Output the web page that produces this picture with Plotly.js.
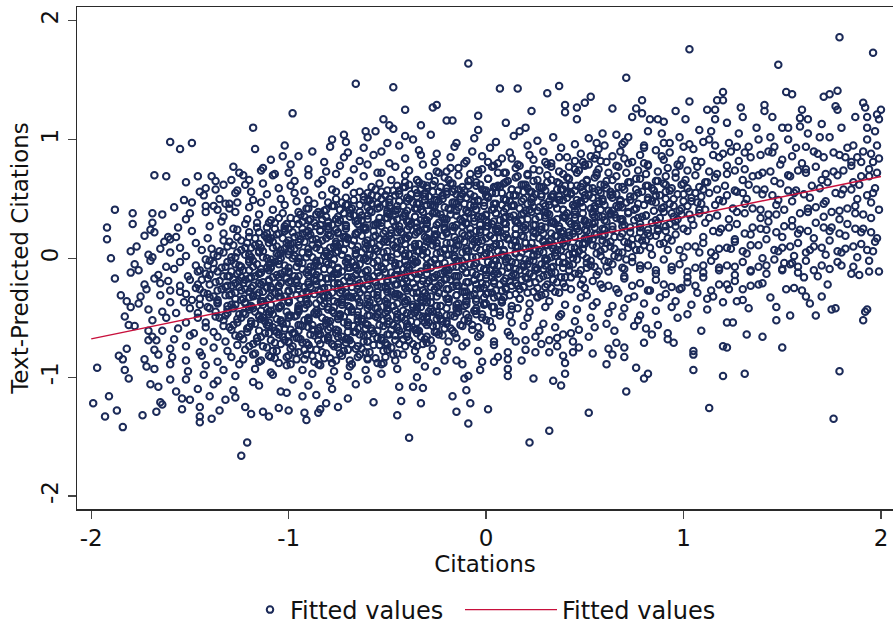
<!DOCTYPE html>
<html>
<head>
<meta charset="utf-8">
<script src="https://cdn.plot.ly/plotly-3.0.1.min.js"></script>
<style>
  html, body { margin: 0; padding: 0; background: #fff; }
  #chart { width: 893px; height: 624px; }
</style>
</head>
<body>
<div id="chart"></div>
<script>
'use strict';

// points read one by one off the sparse edges of the cloud: [citations, predicted]
const edgePoints = [
  [1.03,1.76],[1.79,1.86],[1.96,1.73],[1.48,1.63],[-.09,1.64],[-.66,1.47],[-.47,1.44],[-.98,1.22],[.07,1.43],[.16,1.43],
  [.31,1.39],[.37,1.45],[-.41,1.25],[-.27,1.27],[-.25,1.29],[-.61,1.07],[-.56,1.07],[-.52,1.17],[-.49,1.12],[-.47,1.09],
  [-.41,1.03],[-.33,1.12],[-.2,1.16],[-.17,1.16],[-.04,1.2],[-.04,1.08],[.1,1.14],[.23,1.24],[.4,1.29],[.46,1.27],
  [.4,1.23],[.5,1.31],[.46,1.17],[.2,1.1],[.17,1.07],[-.72,1.04],[-.78,1.0],
  [.71,1.52],[.53,1.36],[1.03,1.32],[.79,1.33],[.64,1.26],[.76,1.26],[.74,1.19],[.79,1.22],[1.2,1.4],[1.17,1.33],[1.2,1.33],
  [1.12,1.25],[1.16,1.25],[1.16,1.17],[1.29,1.27],[1.3,1.19],[1.22,1.14],[1.41,1.29],[1.41,1.24],[1.45,1.19],[1.52,1.4],
  [1.55,1.38],[1.6,1.25],[1.59,1.18],[1.63,1.17],[1.71,1.36],[1.74,1.38],[1.78,1.41],[1.77,1.28],[1.78,1.25],[1.87,1.19],
  [1.91,1.31],[1.92,1.27],[1.93,1.19],[2.0,1.25],[1.98,1.21],[1.99,1.17],[1.93,1.1],[1.97,1.07],[1.93,1.0],[1.98,.95],
  [1.96,.81],[1.99,.84],[1.91,.9],[1.9,.81],[1.86,.95],[1.82,.85],[1.76,.89],[1.8,1.1],[1.7,1.13],[1.69,1.02],
  [1.74,1.02],[1.63,1.05],[1.62,.94],[1.59,1.11],[1.5,1.1],[1.53,1.1],[1.53,1.0],[1.44,1.02],[1.46,.94],[1.37,1.1],
  [1.38,1.0],[1.33,.94],[1.28,1.05],[1.27,.94],[1.23,.97],[1.2,.88],[1.14,1.07],[1.13,1.0],[1.08,1.08],[1.03,.96],
  [.98,1.02],[.93,.97],[.89,1.05],[.86,.91],[.82,1.07],[.83,1.17],[.87,1.17],[.9,1.15],[.96,1.24],[1.01,1.17],
  [.78,.87],[.72,1.02],[.69,.96],[.66,1.04],[.59,1.05],[.56,.97],[.64,.86],[.56,.87],
  [-1.73,.19],[-1.7,.24],[-1.69,.3],[-1.69,.38],[-1.68,.7],[-1.62,.69],[-1.71,.03],[-1.65,.08],[-1.61,.18],[-1.6,.16],
  [-1.6,.98],[-1.55,.92],[-1.49,.97],[-1.58,.43],[-1.53,.49],[-1.5,.38],[-1.52,.64],[-1.46,.69],[-1.49,.47],[-1.45,.56],
  [-1.42,.59],[-1.37,.65],[-1.37,.58],[-1.38,.44],[-1.36,.41],[-1.42,.44],[-1.32,.46],[-1.3,.46],[-1.29,.66],[-1.25,.72],
  [-1.23,.7],[-1.22,.62],[-1.19,.56],[-1.18,1.1],[-1.17,.92],[-1.13,.76],[-1.08,.7],[-1.02,.95],[-1.03,.86],[-1.0,.72],
  [-1.99,-1.22],[-1.97,-.92],[-1.93,-1.33],[-1.91,-1.16],[-1.87,-1.28],[-1.84,-1.42],[-1.92,.26],[-1.92,.16],[-1.88,.41],[-1.9,0],
  [-1.88,-.17],[-1.85,-.31],[-1.79,.38],[-1.83,-.49],[-1.81,-.56],[-1.86,-.82],[-1.84,-.85],[-1.82,-.76],[-1.83,-.94],[-1.81,-1.01],
  [-1.78,-.57],[-1.82,-.36],[-1.8,-.41],[-1.8,-.12],
  [-1.72,-.26],[-1.75,-.32],[-1.76,-.38],[-1.73,-.22],[-1.68,-.17],[-1.65,-.21],[-1.65,-.31],[-1.71,-.43],[-1.69,-.52],[-1.71,-.61],
  [-1.71,-.69],[-1.69,-.66],[-1.67,-.69],[-1.64,-.61],[-1.73,-.85],[-1.72,-.91],[-1.7,-1.06],[-1.66,-1.08],[-1.67,-1.29],[-1.74,-1.32],
  [-1.65,-1.21],[-1.64,-1.23],[-1.6,-.37],[-1.57,-.46],[-1.55,-.28],[-1.53,-.37],[-1.6,-.76],[-1.59,-.83],[-1.6,-1.02],[-1.57,-1.12],
  [-1.54,-1.27],[-1.54,-1.18],[-1.5,-1.19],[-1.45,-1.25],[-1.45,-1.38],[-1.45,-1.33],[-1.39,-1.35],[-1.35,-1.28],[-1.32,-1.19],[-1.24,-1.66],
  [-1.21,-1.55],[-1.22,-1.25],[-1.19,-1.31],[-1.13,-1.29],[-1.1,-1.33],[-1.05,-1.26],[-1.0,-1.28],[-1.01,-1.13],
  [-.39,-1.51],[.22,-1.55],[.32,-1.45],[-.09,-1.39],[-.45,-1.32],[-.15,-1.29],[.01,-1.27],[-.08,-1.22],[-.33,-1.22],[-.43,-1.2],
  [-.17,-1.16],[-.1,-1.11],[.24,-1.01],[.34,-1.03],[.38,-1.07],[.4,-.97],[.11,-.99],[.11,-.93],[-.44,-1.08],[-.37,-1.08],
  [-.32,-1.09],[-.35,-1.0],[-.57,-1.21],[-.75,-1.25],[-.91,-1.36],[-.92,-1.3],[-.85,-1.3],[-.84,-1.27],[-.81,-1.22],[-.93,-1.16],
  [-.11,-1.01],[-.09,-.99],[.11,-.85],[.11,-.79],[.04,-.87],[-.03,-.94],[-.02,-.87],[-.12,-.89],[-.15,-.86],[-.21,-.86],
  [-.25,-.95],[-.31,-.91],[.39,-.82],[.4,-.88],[.25,-.79],[.32,-.79],[.44,-.79],[.47,-.75],[.15,-.7],[.25,-.66],
  [.32,-.69],[.39,-.64],[.47,-.6],
  [.52,-1.3],[.71,-1.12],[1.13,-1.26],[1.76,-1.35],[1.79,-.95],[1.2,-.99],[1.31,-.97],[1.05,-.94],[.8,-1.01],[.82,-.97],
  [.76,-.92],[.61,-.89],[.7,-.83],[.54,-.8],[.62,-.76],[.64,-.81],[.66,-.71],[.7,-.75],[.8,-.71],[.92,-.68],
  [.95,-.71],[.92,-.63],[.84,-.64],[.81,-.59],[1.05,-.81],[1.05,-.78],[1.2,-.74],[1.22,-.75],[1.09,-.61],[1.32,-.64],
  [1.4,-.66],[1.5,-.75],[1.22,-.54],[1.25,-.54],[1.47,-.52],[1.54,-.48],[1.67,-.48],[1.75,-.43],[1.77,-.42],[1.91,-.52],
  [1.92,-.45],[1.93,-.43],[1.33,-.42],[1.27,-.36],[1.3,-.35],[1.47,-.41],[1.64,-.38],[1.7,-.32],[1.73,-.22],[1.85,-.13],
  [1.89,-.14],[1.94,-.11],[1.99,-.11],[1.61,-.16],[1.68,-.15],[1.74,-.09],[1.8,-.06],[1.52,-.26],[1.56,-.25],[1.6,-.27],
  [1.62,-.32],[1.44,-.33],[1.38,-.22],[1.4,-.21],[1.51,-.04],[1.55,-.04],
  [-1.4,-1.16],[-1.27,-1.17],[-.86,-1.15],[-.7,-1.18]
];

// the body of the cloud, estimated band by band from top to bottom
const cloudPoints = [
  [-.71,.98],[-.6,1.02],[-.5,.97],[-.37,1.0],[-.28,1.04],[-.15,.97],[-.06,1.01],[.05,.98],[.14,1.03],[.26,.99],[.34,1.02],[.45,.96],[.52,1.01],
  [-.88,.9],[-.79,.94],[-.7,.89],[-.62,.93],[-.53,.9],[-.44,.95],[-.34,.91],[-.25,.88],[-.16,.94],[-.07,.9],[.02,.93],[.12,.89],[.21,.95],
  [.29,.9],[.38,.93],[.48,.88],[.57,.92],[.68,.9],[.8,.95],[.93,.89],[1.05,.92],[1.16,.95],[1.31,.89],[1.43,.9],[1.57,.93],[1.68,.88],[1.83,.93],
  [-1.09,.83],[-.95,.86],[-.82,.81],[-.72,.85],[-.64,.82],[-.57,.87],[-.49,.8],[-.41,.84],[-.33,.87],[-.26,.81],[-.18,.85],[-.1,.82],
  [-.02,.86],[.06,.8],[.13,.84],[.22,.87],[.3,.81],[.37,.85],[.45,.82],[.53,.86],[.61,.81],[.7,.84],[.8,.8],[.89,.86],[.99,.83],
  [1.09,.81],[1.18,.85],[1.28,.82],[1.39,.87],[1.5,.83],[1.6,.8],[1.71,.85],[1.85,.81],[1.95,.88],
  [-1.28,.77],[-1.14,.74],[-.99,.79],[-.9,.75],[-.81,.73],[-.74,.78],[-.67,.75],[-.6,.79],[-.53,.72],[-.46,.77],[-.39,.74],[-.32,.79],
  [-.25,.73],[-.18,.76],[-.11,.8],[-.04,.74],[.03,.77],[.1,.72],[.17,.78],[.24,.75],[.31,.79],[.37,.73],[.42,.77],[.47,.74],[.52,.79],
  [.57,.75],[.62,.72],[.67,.77],[.72,.8],[.77,.74],[.82,.78],[.87,.73],[.92,.76],[.97,.79],[1.02,.74],[1.07,.77],[1.13,.73],[1.22,.78],
  [1.31,.75],[1.4,.72],[1.49,.79],[1.58,.74],[1.67,.77],[1.76,.73],[1.85,.78],[1.94,.75],
  [-1.39,.69],[-1.2,.66],[-1.07,.71],[-.97,.65],[-.9,.7],[-.83,.66],[-.76,.71],[-.69,.65],[-.62,.69],[-.55,.72],[-.48,.66],[-.41,.7],
  [-.34,.64],[-.29,.69],[-.24,.72],[-.19,.66],[-.14,.7],[-.09,.65],[-.04,.71],[.01,.67],[.06,.72],[.11,.65],[.16,.69],[.21,.71],[.26,.66],
  [.31,.7],[.36,.64],[.41,.68],[.46,.72],[.51,.66],[.56,.7],[.61,.65],[.66,.69],[.71,.72],[.76,.67],[.81,.71],[.86,.65],[.91,.69],
  [.96,.72],[1.01,.66],[1.06,.7],[1.11,.64],[1.16,.68],[1.22,.71],[1.3,.66],[1.38,.7],[1.46,.65],[1.54,.69],[1.62,.72],[1.7,.66],
  [1.78,.7],[1.86,.64],[1.94,.69],
  [-1.33,.62],[-1.26,.57],[-1.13,.63],[-1.05,.59],[-.99,.61],[-.92,.57],[-.85,.63],[-.78,.58],[-.71,.62],[-.64,.56],[-.58,.6],[-.54,.63],
  [-.5,.57],[-.45,.61],[-.41,.64],[-.36,.58],[-.32,.62],[-.27,.56],[-.23,.6],[-.18,.63],[-.14,.58],[-.09,.61],[-.05,.64],[0,.57],[.04,.6],
  [.09,.63],[.13,.58],[.18,.62],[.22,.56],[.27,.6],[.31,.64],[.36,.58],[.4,.61],[.45,.57],[.49,.63],[.54,.59],[.58,.62],[.63,.56],[.67,.6],
  [.72,.64],[.76,.58],[.81,.61],[.85,.57],[.9,.63],[.94,.59],[.99,.62],[1.03,.56],[1.08,.6],[1.12,.64],[1.17,.58],[1.21,.61],[1.26,.57],
  [1.33,.62],[1.41,.58],[1.49,.63],[1.57,.57],[1.65,.61],[1.73,.64],[1.81,.58],[1.89,.62],[1.97,.59],
  [-1.43,.53],[-1.35,.5],[-1.27,.55],[-1.18,.49],[-1.11,.54],[-1.04,.5],[-.97,.55],[-.9,.49],[-.83,.53],[-.76,.56],[-.71,.51],[-.67,.55],
  [-.62,.49],[-.58,.53],[-.53,.56],[-.49,.5],[-.44,.54],[-.4,.48],[-.35,.52],[-.31,.55],[-.26,.49],[-.22,.53],[-.17,.56],[-.13,.5],
  [-.08,.54],[-.04,.48],[.01,.52],[.05,.55],[.1,.49],[.14,.53],[.19,.56],[.23,.5],[.28,.54],[.32,.48],[.37,.52],[.41,.55],[.46,.49],
  [.5,.53],[.55,.56],[.59,.5],[.64,.54],[.68,.48],[.73,.52],[.77,.55],[.82,.49],[.86,.53],[.91,.56],[.95,.5],[1,.54],[1.04,.48],
  [1.09,.52],[1.13,.55],[1.18,.49],[1.22,.53],[1.27,.56],[1.32,.5],[1.4,.54],[1.48,.49],[1.56,.55],[1.64,.51],[1.72,.48],[1.8,.54],
  [1.88,.5],[1.96,.55],
  [-1.3,.42],[-1.26,.47],[-1.2,.43],[-1.14,.47],[-1.08,.41],[-1.02,.45],[-.96,.48],[-.91,.42],[-.87,.46],[-.82,.4],[-.78,.44],[-.73,.47],
  [-.69,.41],[-.64,.45],[-.6,.48],[-.55,.42],[-.51,.46],[-.46,.4],[-.42,.44],[-.37,.47],[-.33,.41],[-.28,.45],[-.24,.48],[-.19,.42],
  [-.15,.46],[-.1,.4],[-.06,.44],[-.01,.47],[.03,.41],[.08,.45],[.12,.48],[.17,.42],[.21,.46],[.26,.4],[.3,.44],[.35,.47],[.39,.41],
  [.44,.45],[.48,.48],[.53,.42],[.57,.46],[.62,.4],[.66,.44],[.71,.47],[.75,.41],[.8,.45],[.84,.48],[.89,.42],[.93,.46],[.98,.4],
  [1.02,.44],[1.07,.47],[1.11,.41],[1.16,.45],[1.2,.48],[1.25,.42],[1.31,.46],[1.39,.41],[1.47,.45],[1.55,.48],[1.63,.42],[1.71,.46],
  [1.79,.4],[1.87,.44],[1.95,.47],
  [-1.64,.37],[-1.52,.33],[-1.42,.39],[-1.33,.35],[-1.27,.39],[-1.21,.33],[-1.15,.37],[-1.09,.32],[-1.03,.38],[-.99,.34],[-.94,.37],
  [-.9,.32],[-.85,.39],[-.81,.35],[-.76,.33],[-.72,.38],[-.67,.36],[-.63,.32],[-.58,.39],[-.54,.34],[-.49,.37],[-.45,.33],[-.4,.4],
  [-.36,.35],[-.31,.32],[-.27,.38],[-.22,.34],[-.18,.37],[-.13,.33],[-.09,.39],[-.04,.35],[0,.32],[.05,.38],[.09,.34],[.14,.36],
  [.18,.32],[.23,.39],[.27,.35],[.32,.37],[.36,.33],[.41,.38],[.45,.34],[.5,.32],[.54,.39],[.59,.35],[.63,.37],[.68,.33],[.72,.38],
  [.77,.34],[.81,.36],[.86,.32],[.9,.39],[.95,.35],[.99,.37],[1.04,.33],[1.08,.38],[1.13,.34],[1.17,.36],[1.23,.33],[1.31,.38],
  [1.39,.34],[1.47,.37],[1.55,.32],[1.63,.39],[1.71,.35],[1.79,.33],[1.87,.38],[1.95,.34],
  [-1.79,.29],[-1.56,.26],[-1.4,.27],[-1.34,.31],[-1.28,.25],[-1.22,.29],[-1.16,.3],[-1.11,.26],[-1.07,.3],[-1.02,.25],[-.98,.29],
  [-.93,.31],[-.89,.26],[-.84,.28],[-.8,.24],[-.75,.3],[-.71,.27],[-.66,.31],[-.62,.25],[-.57,.28],[-.53,.3],[-.48,.24],[-.44,.27],
  [-.39,.31],[-.35,.26],[-.3,.29],[-.26,.24],[-.21,.3],[-.17,.27],[-.12,.31],[-.08,.25],[-.03,.28],[.01,.3],[.06,.25],[.1,.29],
  [.15,.31],[.19,.26],[.24,.28],[.28,.24],[.33,.3],[.37,.27],[.42,.31],[.46,.25],[.51,.28],[.55,.3],[.6,.24],[.64,.27],[.69,.31],
  [.73,.26],[.78,.29],[.82,.24],[.87,.3],[.91,.27],[.96,.31],[1,.25],[1.05,.28],[1.11,.3],[1.19,.25],[1.27,.29],[1.35,.26],[1.43,.31],
  [1.51,.27],[1.59,.24],[1.67,.3],[1.75,.26],[1.83,.29],[1.91,.25],
  [-1.68,.22],[-1.57,.18],[-1.49,.23],[-1.41,.17],[-1.33,.21],[-1.26,.24],[-1.2,.18],[-1.15,.22],[-1.11,.17],[-1.06,.2],[-1.02,.23],
  [-.97,.18],[-.93,.21],[-.88,.16],[-.84,.23],[-.79,.19],[-.75,.22],[-.7,.17],[-.66,.2],[-.61,.24],[-.57,.18],[-.52,.21],[-.48,.16],
  [-.43,.22],[-.39,.19],[-.34,.23],[-.3,.17],[-.25,.2],[-.21,.24],[-.16,.18],[-.12,.21],[-.07,.16],[-.03,.22],[.02,.19],[.06,.23],
  [.11,.17],[.15,.2],[.2,.24],[.24,.18],[.29,.21],[.33,.16],[.38,.22],[.42,.19],[.47,.23],[.51,.17],[.56,.2],[.6,.24],[.65,.18],
  [.69,.21],[.74,.16],[.78,.22],[.83,.19],[.87,.23],[.92,.17],[.96,.2],[1.02,.23],[1.1,.18],[1.18,.22],[1.26,.16],[1.34,.2],[1.42,.24],
  [1.5,.18],[1.58,.21],[1.66,.17],[1.74,.23],[1.82,.19],[1.9,.22],[1.98,.17],
  [-1.77,.1],[-1.63,.14],[-1.55,.09],[-1.47,.13],[-1.39,.08],[-1.33,.15],[-1.28,.11],[-1.24,.15],[-1.19,.09],[-1.15,.12],[-1.1,.16],
  [-1.06,.1],[-1.01,.13],[-.97,.08],[-.92,.14],[-.88,.11],[-.83,.15],[-.79,.09],[-.74,.12],[-.7,.16],[-.65,.1],[-.61,.13],[-.56,.08],
  [-.52,.14],[-.47,.11],[-.43,.15],[-.38,.09],[-.34,.12],[-.29,.16],[-.25,.1],[-.2,.13],[-.16,.08],[-.11,.14],[-.07,.11],[-.02,.15],
  [.02,.09],[.07,.12],[.11,.16],[.16,.1],[.2,.13],[.25,.08],[.29,.14],[.34,.11],[.38,.15],[.43,.09],[.47,.12],[.52,.16],[.56,.1],
  [.61,.13],[.65,.08],[.7,.14],[.74,.11],[.79,.15],[.83,.09],[.88,.12],[.94,.15],[1.02,.1],[1.1,.13],[1.18,.08],[1.26,.14],[1.34,.11],
  [1.42,.16],[1.5,.09],[1.58,.13],[1.66,.1],[1.74,.15],[1.82,.08],[1.9,.12],[1.97,.14],
  [-1.8,.06],[-1.69,.01],[-1.6,.05],[-1.52,.02],[-1.44,.07],[-1.38,.03],[-1.33,.05],[-1.29,.01],[-1.24,.07],[-1.2,.03],[-1.15,.06],
  [-1.11,0],[-1.06,.04],[-1.02,.08],[-.97,.02],[-.93,.05],[-.88,.01],[-.84,.07],[-.79,.03],[-.75,.06],[-.7,0],[-.66,.04],[-.61,.08],
  [-.57,.02],[-.52,.05],[-.48,.01],[-.43,.07],[-.39,.03],[-.34,.06],[-.3,0],[-.25,.04],[-.21,.08],[-.16,.02],[-.12,.05],[-.07,.01],
  [-.03,.07],[.02,.03],[.06,.06],[.11,0],[.15,.04],[.2,.08],[.24,.02],[.29,.05],[.33,.01],[.38,.07],[.42,.03],[.47,.06],[.51,0],
  [.56,.04],[.6,.08],[.65,.02],[.69,.05],[.74,.01],[.78,.07],[.84,.03],[.92,.07],[1.0,.01],[1.08,.05],[1.16,.02],[1.24,.08],[1.32,.04],
  [1.4,0],[1.48,.06],[1.56,.02],[1.64,.07],[1.72,.03],[1.8,.05],[1.88,.01],[1.96,.06],
  [-1.78,-.05],[-1.7,-.02],[-1.62,-.07],[-1.55,-.03],[-1.47,-.06],[-1.42,-.01],[-1.38,-.04],[-1.34,-.08],[-1.29,-.02],[-1.25,-.06],
  [-1.2,-.01],[-1.16,-.05],[-1.11,-.08],[-1.07,-.03],[-1.02,-.06],[-.98,0],[-.93,-.04],[-.89,-.07],[-.84,-.02],[-.8,-.05],[-.75,-.08],
  [-.71,-.03],[-.66,-.06],[-.62,-.01],[-.57,-.04],[-.53,-.07],[-.48,-.02],[-.44,-.05],[-.39,-.08],[-.35,-.03],[-.3,-.06],[-.26,-.01],
  [-.21,-.04],[-.17,-.07],[-.12,-.02],[-.08,-.05],[-.03,-.08],[.01,-.03],[.06,-.06],[.1,-.01],[.15,-.04],[.19,-.07],[.24,-.02],
  [.28,-.05],[.33,-.08],[.37,-.03],[.42,-.06],[.46,-.01],[.51,-.04],[.55,-.07],[.6,-.02],[.64,-.05],[.69,-.08],[.74,-.03],[.82,-.06],
  [.9,-.01],[.98,-.05],[1.06,-.08],[1.14,-.02],[1.22,-.06],[1.3,-.03],[1.38,-.07],[1.46,-.01],[1.54,-.05],[1.62,-.02],[1.7,-.06],
  [1.78,-.03],[1.86,-.07],[1.94,-.02],
  [-1.76,-.1],[-1.66,-.14],[-1.58,-.09],[-1.51,-.15],[-1.46,-.11],[-1.42,-.13],[-1.38,-.09],[-1.33,-.15],[-1.29,-.11],[-1.24,-.16],
  [-1.2,-.1],[-1.15,-.13],[-1.11,-.08],[-1.06,-.14],[-1.02,-.11],[-.97,-.15],[-.93,-.09],[-.88,-.12],[-.84,-.16],[-.79,-.1],[-.75,-.13],
  [-.7,-.08],[-.66,-.14],[-.61,-.11],[-.57,-.15],[-.52,-.09],[-.48,-.12],[-.43,-.16],[-.39,-.1],[-.34,-.13],[-.3,-.08],[-.25,-.14],
  [-.21,-.11],[-.16,-.15],[-.12,-.09],[-.07,-.12],[-.03,-.16],[.02,-.1],[.06,-.13],[.11,-.08],[.15,-.14],[.2,-.11],[.24,-.15],
  [.29,-.09],[.33,-.12],[.38,-.16],[.42,-.1],[.47,-.13],[.51,-.08],[.56,-.14],[.62,-.11],[.7,-.15],[.78,-.09],[.86,-.13],[.94,-.1],
  [1.02,-.16],[1.1,-.12],[1.18,-.08],[1.26,-.14],[1.34,-.1],[1.42,-.13],[1.5,-.09],[1.58,-.12],
  [-1.61,-.19],[-1.55,-.23],[-1.5,-.18],[-1.46,-.22],[-1.41,-.17],[-1.37,-.2],[-1.32,-.24],[-1.28,-.18],[-1.23,-.21],[-1.19,-.16],
  [-1.14,-.22],[-1.1,-.19],[-1.05,-.23],[-1.01,-.17],[-.96,-.2],[-.92,-.24],[-.87,-.18],[-.83,-.21],[-.78,-.16],[-.74,-.22],[-.69,-.19],
  [-.65,-.23],[-.6,-.17],[-.56,-.2],[-.51,-.24],[-.47,-.18],[-.42,-.21],[-.38,-.16],[-.33,-.22],[-.29,-.19],[-.24,-.23],[-.2,-.17],
  [-.15,-.2],[-.11,-.24],[-.06,-.18],[-.02,-.21],[.03,-.16],[.07,-.22],[.12,-.19],[.16,-.23],[.21,-.17],[.25,-.2],[.3,-.24],[.34,-.18],
  [.39,-.21],[.43,-.16],[.48,-.22],[.54,-.19],[.62,-.23],[.7,-.17],[.78,-.21],[.86,-.18],[.94,-.24],[1.02,-.2],[1.1,-.16],[1.18,-.22],
  [1.26,-.19],[1.34,-.23],
  [-1.6,-.27],[-1.52,-.3],[-1.47,-.25],[-1.43,-.29],[-1.38,-.32],[-1.34,-.26],[-1.29,-.3],[-1.25,-.24],[-1.2,-.28],[-1.16,-.31],
  [-1.11,-.25],[-1.07,-.29],[-1.02,-.32],[-.98,-.26],[-.93,-.3],[-.89,-.24],[-.84,-.28],[-.8,-.31],[-.75,-.25],[-.71,-.29],[-.66,-.32],
  [-.62,-.26],[-.57,-.3],[-.53,-.24],[-.48,-.28],[-.44,-.31],[-.39,-.25],[-.35,-.29],[-.3,-.32],[-.26,-.26],[-.21,-.3],[-.17,-.24],
  [-.12,-.28],[-.08,-.31],[-.03,-.25],[.01,-.29],[.06,-.32],[.1,-.26],[.15,-.3],[.19,-.24],[.24,-.28],[.28,-.31],[.33,-.25],[.37,-.29],
  [.43,-.26],[.51,-.31],[.59,-.25],[.67,-.29],[.75,-.32],[.83,-.27],[.91,-.3],[.99,-.25],[1.07,-.29],[1.15,-.32],[1.23,-.26],
  [-1.49,-.35],[-1.45,-.39],[-1.4,-.33],[-1.36,-.37],[-1.31,-.4],[-1.27,-.34],[-1.22,-.38],[-1.18,-.32],[-1.13,-.36],[-1.09,-.39],
  [-1.04,-.33],[-1,-.37],[-.95,-.4],[-.91,-.34],[-.86,-.38],[-.82,-.32],[-.77,-.36],[-.73,-.39],[-.68,-.33],[-.64,-.37],[-.59,-.4],
  [-.55,-.34],[-.5,-.38],[-.46,-.32],[-.41,-.36],[-.37,-.39],[-.32,-.33],[-.28,-.37],[-.23,-.4],[-.19,-.34],[-.14,-.38],[-.1,-.32],
  [-.05,-.36],[-.01,-.39],[.04,-.33],[.08,-.37],[.13,-.4],[.17,-.34],[.22,-.38],[.26,-.32],[.32,-.36],[.4,-.39],[.48,-.33],[.56,-.37],
  [.64,-.4],[.72,-.34],[.8,-.38],[.88,-.33],[.96,-.36],[1.04,-.39],[1.12,-.34],[1.2,-.37],
  [-1.64,-.45],[-1.5,-.42],[-1.46,-.46],[-1.41,-.41],[-1.37,-.45],[-1.32,-.48],[-1.28,-.42],[-1.23,-.46],[-1.19,-.4],[-1.14,-.44],
  [-1.1,-.47],[-1.05,-.41],[-1.01,-.45],[-.96,-.48],[-.92,-.42],[-.87,-.46],[-.83,-.4],[-.78,-.44],[-.74,-.47],[-.69,-.41],[-.65,-.45],
  [-.6,-.48],[-.56,-.42],[-.51,-.46],[-.47,-.4],[-.42,-.44],[-.38,-.47],[-.33,-.41],[-.29,-.45],[-.24,-.48],[-.2,-.42],[-.15,-.46],
  [-.11,-.4],[-.06,-.44],[-.02,-.47],[.03,-.41],[.07,-.45],[.12,-.48],[.16,-.42],[.22,-.45],[.3,-.41],[.38,-.47],[.46,-.43],[.54,-.4],
  [.62,-.46],[.7,-.42],[.78,-.48],[.86,-.44],[.94,-.41],[1.02,-.47],[1.12,-.43],
  [-1.62,-.5],[-1.52,-.54],[-1.46,-.5],[-1.42,-.54],[-1.37,-.49],[-1.33,-.52],[-1.28,-.56],[-1.24,-.5],[-1.19,-.53],[-1.15,-.48],
  [-1.1,-.54],[-1.06,-.51],[-1.01,-.55],[-.97,-.49],[-.92,-.52],[-.88,-.56],[-.83,-.5],[-.79,-.53],[-.74,-.48],[-.7,-.54],[-.65,-.51],
  [-.61,-.55],[-.56,-.49],[-.52,-.52],[-.47,-.56],[-.43,-.5],[-.38,-.53],[-.34,-.48],[-.29,-.54],[-.25,-.51],[-.2,-.55],[-.16,-.49],
  [-.11,-.52],[-.07,-.56],[-.02,-.5],[.02,-.53],[.07,-.48],[.13,-.54],[.21,-.5],[.29,-.55],[.37,-.49],[.45,-.53],[.53,-.5],[.61,-.55],
  [.69,-.49],[.77,-.52],[.87,-.56],[.97,-.5],
  [-1.56,-.59],[-1.48,-.63],[-1.42,-.58],[-1.38,-.62],[-1.33,-.57],[-1.29,-.6],[-1.24,-.64],[-1.2,-.58],[-1.15,-.61],[-1.11,-.56],
  [-1.06,-.62],[-1.02,-.59],[-.97,-.63],[-.93,-.57],[-.88,-.6],[-.84,-.64],[-.79,-.58],[-.75,-.61],[-.7,-.56],[-.66,-.62],[-.61,-.59],
  [-.57,-.63],[-.52,-.57],[-.48,-.6],[-.43,-.64],[-.39,-.58],[-.34,-.61],[-.3,-.56],[-.25,-.62],[-.21,-.59],[-.16,-.63],[-.12,-.57],
  [-.07,-.6],[-.03,-.64],[.03,-.58],[.11,-.62],[.19,-.57],[.27,-.61],[.35,-.58],[.43,-.63],[.55,-.58],[.65,-.61],[.75,-.57],
  [-1.58,-.68],[-1.5,-.65],[-1.43,-.7],[-1.36,-.66],[-1.32,-.7],[-1.27,-.65],[-1.23,-.68],[-1.18,-.72],[-1.14,-.66],[-1.09,-.69],
  [-1.05,-.64],[-1,-.7],[-.96,-.67],[-.91,-.71],[-.87,-.65],[-.82,-.68],[-.78,-.72],[-.73,-.66],[-.69,-.69],[-.64,-.64],[-.6,-.7],
  [-.55,-.67],[-.51,-.71],[-.46,-.65],[-.42,-.68],[-.37,-.72],[-.33,-.66],[-.28,-.69],[-.24,-.64],[-.19,-.7],[-.15,-.67],[-.1,-.71],
  [-.04,-.66],[.04,-.7],[.12,-.65],[.2,-.69],[.28,-.72],[.36,-.67],[.44,-.7],[.52,-.66],
  [-1.68,-.77],[-1.52,-.74],[-1.45,-.79],[-1.38,-.75],[-1.31,-.78],[-1.26,-.73],[-1.22,-.77],[-1.17,-.8],[-1.13,-.74],[-1.08,-.78],
  [-1.04,-.72],[-.99,-.76],[-.95,-.79],[-.9,-.73],[-.86,-.77],[-.81,-.8],[-.77,-.74],[-.72,-.78],[-.68,-.72],[-.63,-.76],[-.59,-.79],
  [-.54,-.73],[-.5,-.77],[-.45,-.8],[-.41,-.74],[-.36,-.78],[-.32,-.72],[-.27,-.76],[-.2,-.79],[-.12,-.74],[-.04,-.78],[.04,-.73],
  [.2,-.77],[.36,-.74],
  [-1.66,-.81],[-1.52,-.86],[-1.44,-.82],[-1.36,-.87],[-1.29,-.83],[-1.23,-.85],[-1.18,-.81],[-1.14,-.86],[-1.09,-.83],[-1.05,-.88],
  [-1,-.82],[-.96,-.85],[-.91,-.81],[-.87,-.87],[-.82,-.84],[-.78,-.88],[-.73,-.82],[-.69,-.86],[-.64,-.81],[-.6,-.85],[-.55,-.88],
  [-.51,-.83],[-.46,-.86],[-.42,-.81],[-.35,-.85],[-.28,-.82],[.06,-.83],[.18,-.86],
  [-1.68,-.93],[-1.6,-.89],[-1.51,-.95],[-1.42,-.9],[-1.33,-.94],[-1.25,-.89],[-1.17,-.93],[-1.09,-.96],[-1.01,-.9],[-.93,-.94],
  [-.85,-.89],[-.77,-.95],[-.69,-.91],[-.61,-.94],[-.53,-.89],[-.45,-.93],
  [-1.52,-1.02],[-1.43,-.98],[-1.36,-1.03],[-1.27,-.99],[-1.18,-1.04],[-1.08,-.98],[-.98,-1.02],[-.88,-.97],[-.79,-1.03],[-.7,-.99],
  [-.6,-1.02],[-.53,-.97],
  [-1.46,-1.1],[-1.38,-1.06],[-1.28,-1.11],[-1.15,-1.07],[-1.04,-1.12],[-.9,-1.07],[-.78,-1.1],[-.66,-1.06]
];

// the near-solid core along the fitted line, read between the bands above
const corePoints = [
  [-.39,.62],[-.35,.66],[-.3,.61],[-.26,.65],[-.21,.68],[-.17,.63],[-.12,.6],[-.08,.66],[-.03,.62],[.01,.67],[.06,.61],[.1,.64],
  [.15,.68],[.19,.62],[.24,.65],[.28,.6],[.33,.66],[.37,.63],[.42,.67],[.46,.61],[.51,.65],[.55,.68],[.6,.62],[.64,.66],[.69,.6],
  [.73,.64],[.78,.67],[.82,.61],[.87,.65],[.91,.62],[.96,.68],[1.0,.63],
  [-.6,.55],[-.56,.58],[-.51,.53],[-.47,.57],[-.42,.6],[-.38,.54],[-.33,.58],[-.29,.52],[-.24,.56],[-.2,.59],[-.15,.54],[-.11,.57],
  [-.06,.52],[-.02,.58],[.03,.55],[.07,.6],[.12,.53],[.16,.57],[.21,.59],[.25,.54],[.3,.57],[.34,.52],[.39,.58],[.43,.55],[.48,.6],
  [.52,.53],[.57,.57],[.61,.59],[.66,.54],[.7,.58],[.75,.52],[.79,.56],[.84,.59],[.88,.53],[.93,.57],[.97,.54],[1.02,.59],[1.06,.55],[1.1,.58],
  [-.8,.47],[-.76,.5],[-.71,.45],[-.67,.49],[-.62,.52],[-.58,.46],[-.53,.5],[-.49,.44],[-.44,.48],[-.4,.51],[-.35,.46],[-.31,.49],
  [-.26,.44],[-.22,.5],[-.17,.47],[-.13,.52],[-.08,.45],[-.04,.49],[.01,.51],[.05,.46],[.1,.49],[.14,.44],[.19,.5],[.23,.47],[.28,.52],
  [.32,.45],[.37,.49],[.41,.51],[.46,.46],[.5,.5],[.55,.44],[.59,.48],[.64,.51],[.68,.45],[.73,.49],[.77,.46],[.82,.51],[.86,.47],
  [.91,.5],[.95,.44],[1.0,.48],[1.04,.51],[1.09,.46],
  [-.95,.39],[-.9,.42],[-.86,.37],[-.81,.41],[-.77,.44],[-.72,.38],[-.68,.42],[-.63,.36],[-.59,.4],[-.54,.43],[-.5,.38],[-.45,.41],
  [-.41,.36],[-.36,.42],[-.32,.39],[-.27,.44],[-.23,.37],[-.18,.41],[-.14,.43],[-.09,.38],[-.05,.41],[0,.36],[.04,.42],[.09,.39],
  [.13,.44],[.18,.37],[.22,.41],[.27,.43],[.31,.38],[.36,.42],[.4,.36],[.45,.4],[.49,.43],[.54,.37],[.58,.41],[.63,.38],[.67,.43],
  [.72,.39],[.76,.42],[.81,.36],[.85,.4],[.9,.43],[.94,.38],[.99,.42],[1.03,.37],[1.08,.41],
  [-1.1,.3],[-1.05,.34],[-1.01,.29],[-.96,.33],[-.92,.35],[-.87,.3],[-.83,.33],[-.78,.28],[-.74,.32],[-.69,.35],[-.65,.29],[-.6,.33],
  [-.56,.28],[-.51,.34],[-.47,.31],[-.42,.35],[-.38,.29],[-.33,.32],[-.29,.35],[-.24,.3],[-.2,.33],[-.15,.28],[-.11,.34],[-.06,.31],
  [-.02,.35],[.03,.29],[.07,.32],[.12,.35],[.16,.3],[.21,.33],[.25,.28],[.3,.34],[.34,.31],[.39,.35],[.43,.29],[.48,.33],[.52,.3],
  [.57,.35],[.61,.31],[.66,.34],[.7,.28],[.75,.32],[.79,.35],[.84,.3],[.88,.34],[.93,.29],[.97,.33],
  [-1.2,.22],[-1.16,.26],[-1.11,.21],[-1.07,.25],[-1.02,.27],[-.98,.22],[-.93,.25],[-.89,.2],[-.84,.24],[-.8,.27],[-.75,.21],[-.71,.25],
  [-.66,.2],[-.62,.26],[-.57,.23],[-.53,.27],[-.48,.21],[-.44,.24],[-.39,.27],[-.35,.22],[-.3,.25],[-.26,.2],[-.21,.26],[-.17,.23],
  [-.12,.27],[-.08,.21],[-.03,.24],[.01,.27],[.06,.22],[.1,.25],[.15,.2],[.19,.26],[.24,.23],[.28,.27],[.33,.21],[.37,.25],[.42,.22],
  [.46,.27],[.51,.23],[.55,.26],[.6,.2],[.64,.24],[.69,.27],[.73,.22],[.78,.26],[.82,.21],[.87,.25],[.91,.23],[.96,.27],
  [-1.3,.14],[-1.26,.18],[-1.21,.13],[-1.17,.17],[-1.12,.19],[-1.08,.14],[-1.03,.17],[-.99,.12],[-.94,.16],[-.9,.19],[-.85,.13],[-.81,.17],
  [-.76,.12],[-.72,.18],[-.67,.15],[-.63,.19],[-.58,.13],[-.54,.16],[-.49,.19],[-.45,.14],[-.4,.17],[-.36,.12],[-.31,.18],[-.27,.15],
  [-.22,.19],[-.18,.13],[-.13,.16],[-.09,.19],[-.04,.14],[0,.17],[.05,.12],[.09,.18],[.14,.15],[.18,.19],[.23,.13],[.27,.17],[.32,.14],
  [.36,.19],[.41,.15],[.45,.18],[.5,.12],[.54,.16],[.59,.19],[.63,.14],[.68,.18],[.72,.13],[.77,.17],[.81,.15],[.86,.19],[.9,.13],
  [-1.35,.06],[-1.31,.1],[-1.26,.05],[-1.22,.09],[-1.17,.11],[-1.13,.06],[-1.08,.09],[-1.04,.04],[-.99,.08],[-.95,.11],[-.9,.05],
  [-.86,.09],[-.81,.04],[-.77,.1],[-.72,.07],[-.68,.11],[-.63,.05],[-.59,.08],[-.54,.11],[-.5,.06],[-.45,.09],[-.41,.04],[-.36,.1],
  [-.32,.07],[-.27,.11],[-.23,.05],[-.18,.08],[-.14,.11],[-.09,.06],[-.05,.09],[0,.04],[.04,.1],[.09,.07],[.13,.11],[.18,.05],[.22,.09],
  [.27,.06],[.31,.11],[.36,.07],[.4,.1],[.45,.04],[.49,.08],[.54,.11],[.58,.06],[.63,.1],[.67,.05],[.72,.09],[.76,.07],[.8,.11],
  [-1.4,-.02],[-1.36,.02],[-1.31,-.03],[-1.27,.01],[-1.22,.03],[-1.18,-.02],[-1.13,.01],[-1.09,-.04],[-1.04,0],[-1,.03],[-.95,-.03],
  [-.91,.01],[-.86,-.04],[-.82,.02],[-.77,-.01],[-.73,.03],[-.68,-.03],[-.64,0],[-.59,.03],[-.55,-.02],[-.5,.01],[-.46,-.04],[-.41,.02],
  [-.37,-.01],[-.32,.03],[-.28,-.03],[-.23,0],[-.19,.03],[-.14,-.02],[-.1,.01],[-.05,-.04],[-.01,.02],[.04,-.01],[.08,.03],[.13,-.03],
  [.17,.01],[.22,-.02],[.26,.03],[.31,-.01],[.35,.02],[.4,-.04],[.44,0],[.49,.03],[.53,-.02],[.58,.02],[.62,-.03],[.67,.01],[.71,-.01],
  [-1.45,-.1],[-1.41,-.06],[-1.36,-.11],[-1.32,-.07],[-1.27,-.05],[-1.23,-.1],[-1.18,-.07],[-1.14,-.12],[-1.09,-.08],[-1.05,-.05],
  [-1,-.11],[-.96,-.07],[-.91,-.12],[-.87,-.06],[-.82,-.09],[-.78,-.05],[-.73,-.11],[-.69,-.08],[-.64,-.05],[-.6,-.1],[-.55,-.07],
  [-.51,-.12],[-.46,-.06],[-.42,-.09],[-.37,-.05],[-.33,-.11],[-.28,-.08],[-.24,-.05],[-.19,-.1],[-.15,-.07],[-.1,-.12],[-.06,-.06],
  [-.01,-.09],[.03,-.05],[.08,-.11],[.12,-.07],[.17,-.1],[.21,-.05],[.26,-.09],[.3,-.06],[.35,-.12],[.39,-.08],[.44,-.05],[.48,-.1],
  [.53,-.06],[.57,-.11],[.61,-.07],
  [-1.44,-.18],[-1.4,-.14],[-1.35,-.19],[-1.31,-.15],[-1.26,-.13],[-1.22,-.18],[-1.17,-.15],[-1.13,-.2],[-1.08,-.16],[-1.04,-.13],
  [-.99,-.19],[-.95,-.15],[-.9,-.2],[-.86,-.14],[-.81,-.17],[-.77,-.13],[-.72,-.19],[-.68,-.16],[-.63,-.13],[-.59,-.18],[-.54,-.15],
  [-.5,-.2],[-.45,-.14],[-.41,-.17],[-.36,-.13],[-.32,-.19],[-.27,-.16],[-.23,-.13],[-.18,-.18],[-.14,-.15],[-.09,-.2],[-.05,-.14],
  [0,-.17],[.04,-.13],[.09,-.19],[.13,-.15],[.18,-.18],[.22,-.13],[.27,-.17],[.31,-.14],[.36,-.2],[.4,-.16],[.45,-.13],[.49,-.18],
  [-1.45,-.26],[-1.4,-.22],[-1.36,-.27],[-1.31,-.23],[-1.27,-.21],[-1.22,-.26],[-1.18,-.23],[-1.13,-.28],[-1.09,-.24],[-1.04,-.21],
  [-1,-.27],[-.95,-.23],[-.91,-.28],[-.86,-.22],[-.82,-.25],[-.77,-.21],[-.73,-.27],[-.68,-.24],[-.64,-.21],[-.59,-.26],[-.55,-.23],
  [-.5,-.28],[-.46,-.22],[-.41,-.25],[-.37,-.21],[-.32,-.27],[-.28,-.24],[-.23,-.21],[-.19,-.26],[-.14,-.23],[-.1,-.28],[-.05,-.22],
  [-.01,-.25],[.04,-.21],[.08,-.27],[.13,-.23],[.17,-.26],[.22,-.21],[.26,-.25],[.31,-.22],[.35,-.28],[.4,-.24],
  [-1.45,-.34],[-1.41,-.3],[-1.36,-.35],[-1.32,-.31],[-1.27,-.29],[-1.23,-.34],[-1.18,-.31],[-1.14,-.36],[-1.09,-.32],[-1.05,-.29],
  [-1,-.35],[-.96,-.31],[-.91,-.36],[-.87,-.3],[-.82,-.33],[-.78,-.29],[-.73,-.35],[-.69,-.32],[-.64,-.29],[-.6,-.34],[-.55,-.31],
  [-.51,-.36],[-.46,-.3],[-.42,-.33],[-.37,-.29],[-.33,-.35],[-.28,-.32],[-.24,-.29],[-.19,-.34],[-.15,-.31],[-.1,-.36],[-.06,-.3],
  [-.01,-.33],[.03,-.29],[.08,-.35],[.12,-.31],[.17,-.34],[.21,-.29],[.26,-.33],[.3,-.3],
  [-1.4,-.42],[-1.36,-.38],[-1.31,-.43],[-1.27,-.39],[-1.22,-.37],[-1.18,-.42],[-1.13,-.39],[-1.09,-.44],[-1.04,-.4],[-1,-.37],
  [-.95,-.43],[-.91,-.39],[-.86,-.44],[-.82,-.38],[-.77,-.41],[-.73,-.37],[-.68,-.43],[-.64,-.4],[-.59,-.37],[-.55,-.42],[-.5,-.39],
  [-.46,-.44],[-.41,-.38],[-.37,-.41],[-.32,-.37],[-.28,-.43],[-.23,-.4],[-.19,-.37],[-.14,-.42],[-.1,-.39],[-.05,-.44],[-.01,-.38],
  [.04,-.41],[.08,-.37],[.13,-.43],
  [-1.35,-.5],[-1.31,-.46],[-1.26,-.51],[-1.22,-.47],[-1.17,-.45],[-1.13,-.5],[-1.08,-.47],[-1.04,-.52],[-.99,-.48],[-.95,-.45],
  [-.9,-.51],[-.86,-.47],[-.81,-.52],[-.77,-.46],[-.72,-.49],[-.68,-.45],[-.63,-.51],[-.59,-.48],[-.54,-.45],[-.5,-.5],[-.45,-.47],
  [-.41,-.52],[-.36,-.46],[-.32,-.49],[-.27,-.45],[-.23,-.51],[-.18,-.48],[-.14,-.45],[-.09,-.5],[-.05,-.47],[0,-.52],[.04,-.46],
  [-1.3,-.58],[-1.26,-.54],[-1.21,-.59],[-1.17,-.55],[-1.12,-.53],[-1.08,-.58],[-1.03,-.55],[-.99,-.6],[-.94,-.56],[-.9,-.53],
  [-.85,-.59],[-.81,-.55],[-.76,-.6],[-.72,-.54],[-.67,-.57],[-.63,-.53],[-.58,-.59],[-.54,-.56],[-.49,-.53],[-.45,-.58],[-.4,-.55],
  [-.36,-.6],[-.31,-.54],[-.27,-.57],[-.22,-.53],[-.18,-.59],[-.13,-.56],[-.09,-.53],[-.04,-.58],
  [-1.25,-.66],[-1.21,-.62],[-1.16,-.67],[-1.12,-.63],[-1.07,-.61],[-1.03,-.66],[-.98,-.63],[-.94,-.68],[-.89,-.64],[-.85,-.61],
  [-.8,-.67],[-.76,-.63],[-.71,-.68],[-.67,-.62],[-.62,-.65],[-.58,-.61],[-.53,-.67],[-.49,-.64],[-.44,-.61],[-.4,-.66],[-.35,-.63],
  [-.31,-.68],[-.26,-.62],[-.22,-.65],[-.17,-.61],
  [-1.2,-.74],[-1.16,-.7],[-1.11,-.75],[-1.07,-.71],[-1.02,-.69],[-.98,-.74],[-.93,-.71],[-.89,-.76],[-.84,-.72],[-.8,-.69],
  [-.75,-.75],[-.71,-.71],[-.66,-.76],[-.62,-.7],[-.57,-.73],[-.53,-.69],[-.48,-.75],[-.44,-.72],[-.39,-.69],[-.35,-.74],[-.3,-.71],
  [-1.1,-.82],[-1.06,-.78],[-1.01,-.83],[-.97,-.79],[-.92,-.77],[-.88,-.82],[-.83,-.79],[-.79,-.84],[-.74,-.8],[-.7,-.77],
  [-.65,-.83],[-.61,-.79],[-.56,-.84],[-.52,-.78],[-.47,-.81],
  [.6,.95],[.7,.98],[.8,.93],[.9,.97],[1.0,.94],[1.1,.98],
  [1.15,.87],[1.24,.9],[1.34,.85],[1.45,.89],[1.55,.86],[1.66,.9],[1.79,.87],[1.88,.85],
  [.5,.79],[.58,.82],[.66,.78],[.74,.81],[.82,.79],[.9,.83],[.98,.78],[1.06,.82],
  [1.17,.71],[1.26,.74],[1.35,.69],[1.44,.73],[1.53,.7],[1.62,.75],[1.72,.71],[1.81,.74],[1.9,.69],[1.98,.72],
  [1.3,.55],[1.37,.58],[1.45,.53],[1.53,.57],[1.61,.54],[1.69,.59],[1.77,.55],[1.85,.58],[1.93,.53],
  [1.27,.39],[1.35,.42],[1.43,.37],[1.51,.41],[1.59,.38],[1.67,.43],[1.75,.39],[1.83,.42],[1.91,.37],[1.99,.41],
  [1.15,.23],[1.23,.26],[1.31,.21],[1.39,.25],[1.47,.22],[1.55,.27],[1.63,.23],[1.71,.26],[1.79,.21],[1.87,.25],[1.95,.22],
  [.98,.07],[1.06,.1],[1.14,.05],[1.22,.09],[1.3,.06],[1.38,.11],[1.46,.07],[1.54,.1],[1.62,.05],[1.7,.09],[1.78,.06],[1.86,.1],[1.93,.07],
  [.7,-.09],[.78,-.06],[.86,-.1],[.94,-.07],[1.02,-.11],[1.1,-.06],[1.18,-.1],[1.26,-.07],[1.34,-.11],[1.42,-.06],[1.5,-.1],[1.58,-.07],[1.66,-.1],
  [.5,-.25],[.58,-.22],[.66,-.26],[.74,-.23],[.82,-.27],[.9,-.22],[.98,-.26],[1.06,-.23],[1.14,-.27],[1.22,-.22],[1.3,-.26]
];

// the darkest middle of the core, where the circles overlap into a solid mass
const innerPoints = [
  [-.2,.73],[-.14,.76],[-.08,.71],[-.02,.75],[.04,.78],[.09,.72],[.15,.76],[.21,.7],[.27,.74],[.33,.77],[.39,.71],[.45,.75],[.5,.78],[.56,.72],
  [.01,.81],[.08,.84],[.16,.79],[.24,.83],[.33,.8],[.41,.85],[.49,.81],[.55,.84],
  [-.44,.57],[-.41,.6],[-.35,.55],[-.3,.59],[-.27,.62],[-.2,.56],[-.16,.58],[-.12,.54],[-.05,.61],[-.01,.57],[.05,.6],[.08,.55],
  [.13,.58],[.2,.62],[.23,.56],[.29,.6],[.34,.54],[.38,.58],[.43,.61],[.49,.56],[.52,.59],[.58,.55],
  [-.59,.49],[-.55,.52],[-.49,.47],[-.46,.53],[-.39,.5],[-.34,.46],[-.31,.52],[-.25,.49],[-.2,.54],[-.16,.47],[-.1,.51],[-.06,.48],
  [0,.53],[.04,.46],[.09,.5],[.15,.53],[.18,.48],[.24,.51],[.29,.46],[.33,.52],[.39,.49],[.43,.54],[.48,.47],[.54,.51],[.57,.48],
  [.63,.53],[.68,.49],
  [-.74,.41],[-.7,.45],[-.64,.39],[-.6,.43],[-.55,.46],[-.5,.4],[-.45,.44],[-.41,.38],[-.35,.42],[-.3,.45],[-.26,.39],[-.21,.43],
  [-.15,.4],[-.11,.46],[-.05,.41],[-.01,.44],[.05,.38],[.1,.42],[.14,.45],[.2,.4],[.24,.43],[.3,.39],[.35,.46],[.39,.41],[.45,.44],
  [.49,.38],[.55,.42],[.6,.45],[.64,.4],[.69,.43],
  [-.89,.33],[-.84,.37],[-.8,.31],[-.75,.35],[-.69,.38],[-.65,.32],[-.6,.36],[-.55,.3],[-.5,.34],[-.46,.37],[-.4,.31],[-.36,.35],
  [-.3,.32],[-.25,.38],[-.21,.33],[-.15,.36],[-.1,.3],[-.06,.34],[0,.37],[.04,.31],[.1,.35],[.15,.32],[.19,.38],[.25,.33],[.3,.36],
  [.34,.3],[.4,.34],[.45,.37],[.5,.31],[.55,.35],[.6,.32],[.65,.37],[.69,.33],
  [-1.0,.25],[-.95,.29],[-.9,.23],[-.86,.27],[-.8,.3],[-.76,.24],[-.71,.28],[-.65,.22],[-.61,.26],[-.55,.29],[-.51,.23],[-.46,.27],
  [-.4,.24],[-.35,.3],[-.31,.25],[-.25,.28],[-.2,.22],[-.16,.26],[-.1,.29],[-.05,.23],[0,.27],[.05,.24],[.09,.3],[.15,.25],[.2,.28],
  [.24,.22],[.3,.26],[.35,.29],[.39,.23],[.45,.27],[.5,.24],[.54,.29],[.59,.25],
  [-1.09,.17],[-1.05,.21],[-1,.15],[-.95,.19],[-.91,.22],[-.86,.16],[-.8,.2],[-.76,.14],[-.71,.18],[-.66,.21],[-.6,.15],[-.56,.19],
  [-.51,.16],[-.45,.22],[-.41,.17],[-.36,.2],[-.3,.14],[-.26,.18],[-.2,.21],[-.15,.15],[-.11,.19],[-.05,.16],[0,.22],[.04,.17],
  [.1,.2],[.15,.14],[.19,.18],[.25,.21],[.29,.15],[.35,.19],[.4,.16],[.44,.21],[.5,.17],[.55,.2],[.59,.15],
  [-1.14,.09],[-1.1,.13],[-1.04,.07],[-1,.11],[-.95,.14],[-.9,.08],[-.85,.12],[-.81,.06],[-.75,.1],[-.71,.13],[-.66,.07],[-.6,.11],
  [-.56,.08],[-.5,.14],[-.46,.09],[-.41,.12],[-.35,.06],[-.31,.1],[-.25,.13],[-.21,.07],[-.15,.11],[-.1,.08],[-.06,.14],[0,.09],
  [.05,.12],[.09,.06],[.15,.1],[.2,.13],[.24,.07],[.3,.11],[.34,.08],[.39,.13],[.45,.09],[.49,.12],
  [-1.19,.01],[-1.15,.05],[-1.09,-.01],[-1.05,.03],[-1,.06],[-.95,0],[-.9,.04],[-.86,-.02],[-.8,.02],[-.76,.05],[-.7,-.01],[-.66,.03],
  [-.61,0],[-.55,.06],[-.51,.01],[-.45,.04],[-.41,-.02],[-.36,.02],[-.3,.05],[-.26,-.01],[-.2,.03],[-.16,0],[-.1,.06],[-.05,.01],
  [0,.04],[.05,-.02],[.09,.02],[.15,.05],[.2,-.01],[.24,.03],[.3,0],[.35,.05],[.39,.01],[.44,.04],
  [-1.24,-.07],[-1.2,-.03],[-1.14,-.09],[-1.1,-.05],[-1.05,-.02],[-1,-.08],[-.95,-.04],[-.9,-.1],[-.85,-.06],[-.81,-.03],[-.75,-.09],
  [-.7,-.05],[-.66,-.08],[-.6,-.02],[-.55,-.07],[-.51,-.04],[-.45,-.1],[-.4,-.06],[-.36,-.03],[-.3,-.09],[-.25,-.05],[-.2,-.08],
  [-.15,-.02],[-.11,-.07],[-.05,-.04],[0,-.1],[.04,-.06],[.1,-.03],[.15,-.09],[.19,-.05],[.25,-.08],[.3,-.02],[.34,-.07],[.39,-.04],
  [-1.3,-.15],[-1.25,-.11],[-1.2,-.17],[-1.15,-.13],[-1.1,-.1],[-1.05,-.16],[-1,-.12],[-.96,-.18],[-.9,-.14],[-.85,-.11],[-.8,-.17],
  [-.76,-.13],[-.7,-.16],[-.65,-.1],[-.6,-.15],[-.55,-.12],[-.5,-.18],[-.46,-.14],[-.4,-.11],[-.35,-.17],[-.3,-.13],[-.26,-.16],
  [-.2,-.1],[-.15,-.15],[-.1,-.12],[-.06,-.18],[0,-.14],[.05,-.11],[.1,-.17],[.14,-.13],[.2,-.16],[.25,-.1],[.29,-.15],
  [-1.29,-.23],[-1.25,-.19],[-1.19,-.25],[-1.15,-.21],[-1.1,-.18],[-1.05,-.24],[-1,-.2],[-.95,-.26],[-.9,-.22],[-.86,-.19],[-.8,-.25],
  [-.75,-.21],[-.71,-.24],[-.65,-.18],[-.6,-.23],[-.56,-.2],[-.5,-.26],[-.45,-.22],[-.4,-.19],[-.36,-.25],[-.3,-.21],[-.25,-.24],
  [-.21,-.18],[-.15,-.23],[-.1,-.2],[-.05,-.26],[0,-.22],[.04,-.19],[.1,-.25],[.15,-.21],[.19,-.24],
  [-1.3,-.31],[-1.24,-.27],[-1.2,-.33],[-1.15,-.29],[-1.09,-.26],[-1.05,-.32],[-1,-.28],[-.94,-.34],[-.9,-.3],[-.85,-.27],[-.8,-.33],
  [-.74,-.29],[-.7,-.32],[-.65,-.26],[-.6,-.31],[-.55,-.28],[-.5,-.34],[-.45,-.3],[-.4,-.27],[-.35,-.33],[-.31,-.29],[-.25,-.32],
  [-.2,-.26],[-.15,-.31],[-.11,-.28],[-.05,-.34],[0,-.3],[.05,-.27],[.09,-.33],
  [-1.29,-.39],[-1.24,-.35],[-1.2,-.41],[-1.14,-.37],[-1.1,-.34],[-1.04,-.4],[-1,-.36],[-.95,-.42],[-.9,-.38],[-.84,-.35],[-.8,-.41],
  [-.75,-.37],[-.7,-.4],[-.65,-.34],[-.6,-.39],[-.54,-.36],[-.5,-.42],[-.45,-.38],[-.4,-.35],[-.35,-.41],[-.3,-.37],[-.25,-.4],
  [-.2,-.34],[-.15,-.39],[-.1,-.36],[-.05,-.42],[0,-.38],
  [-1.25,-.47],[-1.2,-.43],[-1.15,-.49],[-1.1,-.45],[-1.05,-.42],[-1,-.48],[-.95,-.44],[-.9,-.5],[-.85,-.46],[-.8,-.43],[-.75,-.49],
  [-.7,-.45],[-.65,-.48],[-.6,-.42],[-.55,-.47],[-.5,-.44],[-.45,-.5],[-.4,-.46],[-.35,-.43],[-.3,-.49],[-.25,-.45],[-.2,-.48],
  [-.15,-.42],[-.1,-.47],
  [-1.19,-.55],[-1.14,-.51],[-1.1,-.57],[-1.04,-.53],[-1,-.5],[-.95,-.56],[-.9,-.52],[-.84,-.58],[-.8,-.54],[-.75,-.51],[-.7,-.57],
  [-.65,-.53],[-.6,-.56],[-.55,-.5],[-.5,-.55],[-.45,-.52],[-.4,-.58],[-.35,-.54],[-.3,-.51],[-.25,-.57],[-.2,-.53],
  [-1.1,-.63],[-1.05,-.59],[-1,-.65],[-.95,-.61],[-.9,-.58],[-.85,-.64],[-.8,-.6],[-.75,-.66],[-.7,-.62],[-.65,-.59],[-.6,-.65],
  [-.55,-.61],[-.5,-.64],[-.45,-.58],[-.4,-.63],[-.35,-.6],[-.3,-.66],
  [-1,-.71],[-.95,-.67],[-.9,-.73],[-.85,-.69],[-.8,-.66],[-.75,-.72],[-.7,-.68],[-.65,-.74],[-.6,-.7],[-.55,-.67],[-.5,-.73],[-.46,-.69],
  [-1.15,-.87],[-1.07,-.84],[-.99,-.89],[-.92,-.85],[-.84,-.9],[-.76,-.86],[-.68,-.89],[-.6,-.84],[-.52,-.88]
];

// ends of the fitted line, read at x = -2 and x = 2
const fitCitations = [-2, 2];
const fitPredicted = [-0.678, 0.689];

const tickValues = [-2, -1, 0, 1, 2];
const tickLabels = ['-2', '-1', '0', '1', '2'];

const allPoints = edgePoints.concat(cloudPoints, corePoints, innerPoints);
const citations = allPoints.map(p => p[0]);
const predicted = allPoints.map(p => p[1]);

const NAVY = '#1b2a58';
const CRIMSON = '#c8103c';
const FONT = 'DejaVu Sans, Verdana, sans-serif';

const data = [{
    x: citations,
    y: predicted,
    type: 'scatter',
    mode: 'markers',
    name: 'Fitted values',
    legend: 'legend',
    marker: { symbol: 'circle-open', size: 6.5, color: NAVY, line: { width: 2, color: NAVY } },
    hoverinfo: 'x+y'
}, {
    x: fitCitations,
    y: fitPredicted,
    type: 'scatter',
    mode: 'lines',
    name: 'Fitted values',
    legend: 'legend2',
    line: { color: CRIMSON, width: 1.4 },
    hoverinfo: 'skip'
}];

const axisBase = {
    showgrid: false,
    zeroline: false,
    showline: true,
    mirror: true,
    linecolor: '#2a2a2a',
    linewidth: 1.5,
    ticks: 'outside',
    ticklen: 8,
    tickwidth: 1.3,
    tickcolor: '#444',
    tickmode: 'array',
    tickvals: tickValues,
    ticktext: tickLabels,
    tickfont: { family: FONT, size: 23, color: '#111' }
};

const legendBase = {
    orientation: 'h',
    xref: 'container',
    yref: 'container',
    y: 0.0224,
    xanchor: 'left',
    yanchor: 'middle',
    bgcolor: 'rgba(0,0,0,0)',
    borderwidth: 0,
    font: { family: FONT, size: 24, color: '#111' }
};

const layout = {
    width: 893,
    height: 624,
    margin: { l: 77, r: 0, t: 7, b: 115 },
    paper_bgcolor: '#fff',
    plot_bgcolor: '#fff',
    font: { family: FONT, color: '#111' },
    showlegend: true,
    xaxis: Object.assign({}, axisBase, {
        range: [-2.072, 2.061],
        title: { text: 'Citations', font: { family: FONT, size: 23, color: '#111' }, standoff: 3 }
    }),
    yaxis: Object.assign({}, axisBase, {
        range: [-2.109, 2.115],
        tickangle: -90,
        title: { text: 'Text-Predicted Citations', font: { family: FONT, size: 23, color: '#111' }, standoff: 2 }
    }),
    legend: Object.assign({}, legendBase, { x: 250 / 893, itemwidth: 30 }),
    legend2: Object.assign({}, legendBase, { x: 460 / 893, itemwidth: 92 })
};

Plotly.newPlot('chart', data, layout, { displayModeBar: false, staticPlot: true });
</script>
</body>
</html>
